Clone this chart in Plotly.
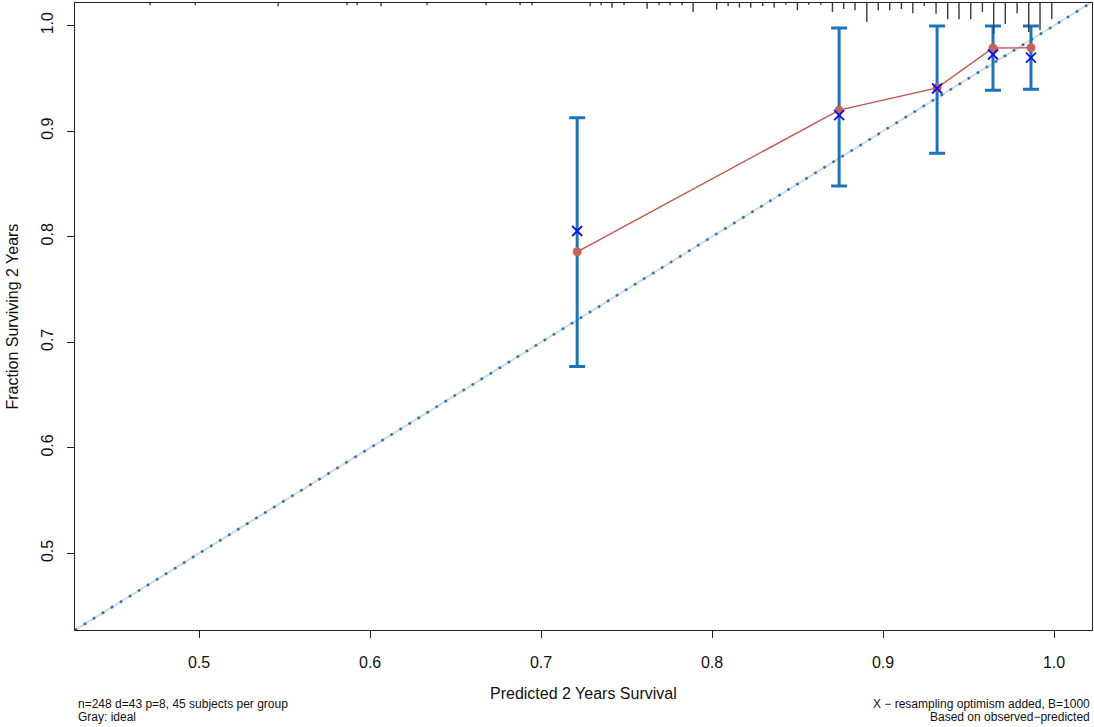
import plotly.graph_objects as go

# ---- data ----
pred = [0.7211, 0.8743, 0.9316, 0.9643, 0.9865]          # mean predicted survival per group
observed = [0.7857, 0.9199, 0.9410, 0.9788, 0.9790]      # Kaplan-Meier observed
corrected = [0.8054, 0.9151, 0.9404, 0.9726, 0.9697]     # optimism corrected (X)
ci_low = [0.6770, 0.8480, 0.8790, 0.9388, 0.9397]
ci_high = [0.9127, 0.9977, 0.9996, 0.9996, 0.9996]

ideal = [0.0, 1.2]

rug_x = [0.4713, 0.4977, 0.5462, 0.5865, 0.5924, 0.6064, 0.6333, 0.6678, 0.6877,
         0.6947, 0.7287, 0.7351, 0.7415, 0.7485, 0.7620, 0.7690, 0.7754, 0.7825,
         0.7889, 0.8027, 0.8094, 0.8160, 0.8226, 0.8296, 0.8363, 0.8431, 0.8499,
         0.8565, 0.8636, 0.8704, 0.8770, 0.8836, 0.8905, 0.8972, 0.9039, 0.9107,
         0.9174, 0.9241, 0.9310, 0.9378, 0.9444, 0.9513, 0.9581, 0.9647, 0.9715,
         0.9784, 0.9852, 0.9918, 0.9987]
rug_height = [2.3, 2.3, 3.3, 2.3, 2.3, 3.3, 2.3, 2.3, 2.3,
              2.3, 3.3, 2.3, 4.7, 2.3, 5.7, 2.3, 2.3, 2.3,
              9.0, 6.7, 3.0, 4.7, 4.7, 3.0, 4.7, 1.7, 7.3,
              1.7, 1.7, 9.0, 6.0, 7.3, 19.0, 7.3, 7.3, 6.0,
              10.3, 3.0, 10.7, 16.3, 16.3, 16.3, 9.0, 31.0, 21.0,
              10.3, 29.0, 27.3, 16.0]

x_ticks = [0.5, 0.6, 0.7, 0.8, 0.9, 1.0]
y_ticks = [0.5, 0.6, 0.7, 0.8, 0.9, 1.0]
x_range = [0.4274, 1.0222]
y_range = [0.4274, 1.0214]

x_title = "Predicted 2 Years Survival"
y_title = "Fraction Surviving 2 Years"
note_left = ["n=248 d=43 p=8, 45 subjects per group", "Gray: ideal"]
note_right = ["X \u2212 resampling optimism added, B=1000", "Based on observed\u2212predicted"]

FONT = "Liberation Sans, Arial, sans-serif"
BAR_BLUE = "#1B74BE"

fig = go.Figure()

# ideal line: gray solid plus blue dotted overlay
fig.add_trace(go.Scatter(x=ideal, y=ideal, mode="lines",
                         line=dict(color="#D8D8D8", width=2), hoverinfo="skip"))
fig.add_trace(go.Scatter(x=ideal, y=ideal, mode="lines",
                         line=dict(color="#1F78C8", width=2.6, dash="2.6px,8px"), hoverinfo="skip"))

# rug of predicted risks at the top
rx, ry = [], []
for xv, h in zip(rug_x, rug_height):
    rx += [xv, xv, None]
    ry += [0, h, None]
fig.add_trace(go.Scatter(x=rx, y=ry, mode="lines", yaxis="y2",
                         line=dict(color="#3A3A3A", width=1.4), hoverinfo="skip"))

# error bars
fig.add_trace(go.Scatter(
    x=pred, y=observed, mode="markers",
    marker=dict(color="rgba(0,0,0,0)", size=1),
    error_y=dict(type="data", symmetric=False,
                 array=[h - o for h, o in zip(ci_high, observed)],
                 arrayminus=[o - l for o, l in zip(observed, ci_low)],
                 color=BAR_BLUE, thickness=3, width=8),
    hoverinfo="skip"))

# observed line with dots
fig.add_trace(go.Scatter(x=pred, y=observed, mode="lines+markers",
                         line=dict(color="#C2564C", width=1.4),
                         marker=dict(color="#C4645C", size=9)))

# optimism-corrected X
fig.add_trace(go.Scatter(x=pred, y=corrected, mode="markers",
                         marker=dict(symbol="x-thin", size=10,
                                     line=dict(color="#1010F0", width=1.8))))

axis_common = dict(showgrid=False, zeroline=False, showline=True, mirror=True,
                   linecolor="#222222", linewidth=1, ticks="outside", ticklen=7,
                   tickcolor="#222222", tickwidth=1,
                   tickfont=dict(family=FONT, size=16, color="#111111"))

fig.update_layout(
    width=1094, height=727,
    paper_bgcolor="white", plot_bgcolor="white",
    margin=dict(l=75, r=2, t=3, b=97),
    showlegend=False,
    font=dict(family=FONT, color="#111111"),
    xaxis=dict(range=x_range, tickvals=x_ticks,
               ticktext=[f"{v:.1f}" for v in x_ticks],
               ticklabelstandoff=11, **axis_common),
    yaxis=dict(range=y_range, tickvals=y_ticks,
               ticktext=[f"{v:.1f}" for v in y_ticks],
               tickangle=-90, ticklabelstandoff=8, **axis_common),
    yaxis2=dict(overlaying="y", range=[627, 0], visible=False,
                showgrid=False, zeroline=False),
)

annotations = [
    dict(text=x_title, xref="paper", yref="paper", x=0.5, y=0, xanchor="center",
         yanchor="middle", yshift=-63, showarrow=False,
         font=dict(family=FONT, size=16, color="#111111")),
    dict(text=y_title, xref="paper", yref="paper", x=0, y=0.5, xanchor="center",
         yanchor="middle", xshift=-63, textangle=-90, showarrow=False,
         font=dict(family=FONT, size=16, color="#111111")),
]
for i, t in enumerate(note_left):
    annotations.append(dict(text=t, xref="paper", yref="paper", x=0, y=0,
                            xanchor="left", yanchor="middle", xshift=1,
                            yshift=-74 - 13 * i, showarrow=False,
                            font=dict(family=FONT, size=12, color="#111111")))
for i, t in enumerate(note_right):
    annotations.append(dict(text=t, xref="paper", yref="paper", x=1, y=0,
                            xanchor="right", yanchor="middle", xshift=0,
                            yshift=-74 - 13 * i, showarrow=False,
                            font=dict(family=FONT, size=12, color="#111111")))
fig.update_layout(annotations=annotations)

fig.write_html("out.html", config={"displayModeBar": False},
               post_script="document.body.style.margin='0';"
                           "document.body.style.overflow='hidden';")
